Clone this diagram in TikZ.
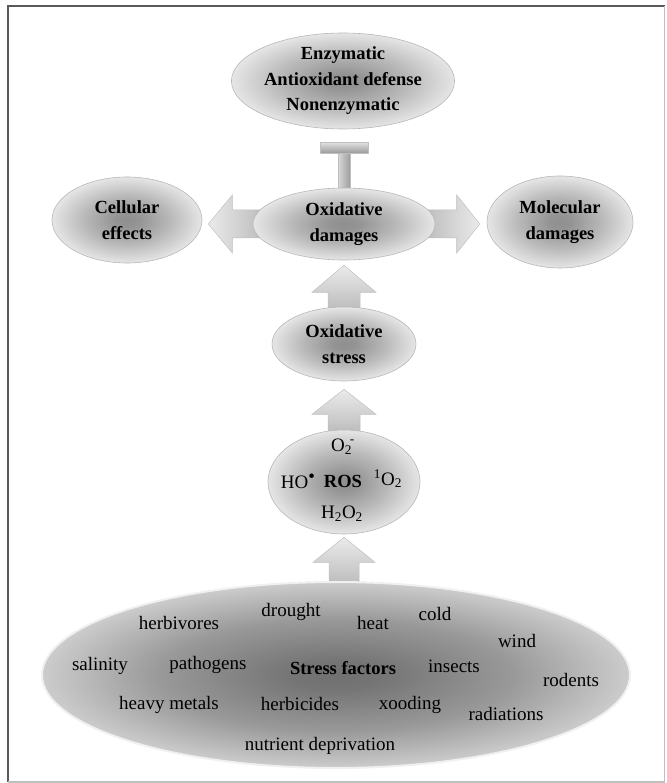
\documentclass[tikz,border=0pt]{standalone}
\usepackage{fontspec}
\setmainfont{Liberation Serif}
\usetikzlibrary{shapes.geometric,calc}
\pgfdeclarelayer{bg}
\pgfsetlayers{bg,main}
\pgfdeclareradialshading{ellA}{\pgfpoint{0bp}{0bp}}{color(0bp)=(black!44); color(4bp)=(black!42); color(14bp)=(black!28); color(25bp)=(black!10); color(50bp)=(black!10)}
\pgfdeclareradialshading{ellB}{\pgfpoint{0bp}{0bp}}{color(0bp)=(black!56); color(4bp)=(black!54); color(15bp)=(black!40); color(25bp)=(black!20); color(50bp)=(black!20)}
\begin{document}
\begin{tikzpicture}[x=1pt,y=-1pt,
  ell/.style={ellipse, inner sep=0pt, draw=black!28, line width=0.6pt, shade, shading=ellA,
    align=center, font=\fontsize{18.5}{25.5}\selectfont\bfseries},
  ellbig/.style={ellipse, inner sep=0pt, draw=black!6, line width=2pt, shade, shading=ellB},
  txt/.style={inner sep=0pt, font=\fontsize{19}{22}\selectfont},
  btxt/.style={inner sep=0pt, font=\fontsize{18.5}{22}\selectfont\bfseries},
  blkup/.style={draw=black!25, line width=0.5pt, shade, top color=black!8, bottom color=black!30},
  blkl/.style={draw=black!25, line width=0.5pt, shade, left color=black!8, right color=black!30},
  blkr/.style={draw=black!25, line width=0.5pt, shade, left color=black!30, right color=black!8}]
\useasboundingbox (0,0) rectangle (666,783);
% frame
\draw[black!65, line width=2.5pt] (8,782) -- (8,6) -- (664.5,6);
\draw[black!25, line width=1.2pt] (8,782) -- (664.5,782) -- (664.5,6);

% nodes
\node[ell, minimum width=196pt, minimum height=96pt] (def) at (343,81) {Enzymatic\\Antioxidant defense\\Nonenzymatic};
\node[ell, minimum width=182pt, minimum height=72pt] (dam) at (344,224) {Oxidative\\damages};
\node[ell, minimum width=150pt, minimum height=86pt] (cell) at (127,220) {Cellular\\effects};
\node[ell, minimum width=146pt, minimum height=92pt] (mol) at (560,222) {Molecular\\damages};
\node[ell, minimum width=144pt, minimum height=74pt] (ox) at (344,344) {Oxidative\\stress};
\node[ell, minimum width=152pt, minimum height=104pt] (ros) at (344,482) {};
\node[ellbig, minimum width=588pt, minimum height=186pt] (sf) at (336,675) {};

% ROS texts
\node[txt] (o2m) at (343,447) {O\textsubscript{2}\kern-0.12em\raisebox{0.1em}{\textsuperscript{-}}};
\node[txt] (ho) at (298,481) {HO\raisebox{0.3em}{\textbullet}};
\node[btxt] (rosl) at (343,481) {ROS};
\node[txt] (so2) at (388,479) {\textsuperscript{1}O\textsubscript{2}};
\node[txt] (h2o2) at (342,514) {H\textsubscript{2}O\textsubscript{2}};

% stress factor texts
\node[txt] (t1) at (179,623) {herbivores};
\node[txt] (t2) at (291,612) {drought};
\node[txt] (t3) at (373,623) {heat};
\node[txt] (t4) at (435,614) {cold};
\node[txt] (t5) at (517,641) {wind};
\node[txt] (t6) at (100,666) {salinity};
\node[txt] (t7) at (208,665) {pathogens};
\node[btxt] (t8) at (343,668) {Stress factors};
\node[txt] (t9) at (454,666) {insects};
\node[txt] (t10) at (571,680) {rodents};
\node[txt] (t11) at (169,705) {heavy metals};
\node[txt] (t12) at (300,704) {herbicides};
\node[txt] (t13) at (410,705) {xooding};
\node[txt] (t14) at (506,714) {radiations};
\node[txt] (t15) at (320,746) {nutrient deprivation};

% connectors (block arrows) on background layer
\begin{pgfonlayer}{bg}
% ox -> dam
\path[blkup] ($(ox.north)+(-16,12)$) -- ($(dam.south)+(-16,32)$) -- ($(dam.south)+(-32,32)$)
  -- ($(dam.south)+(0,5)$) -- ($(dam.south)+(32,32)$) -- ($(dam.south)+(16,32)$)
  -- ($(ox.north)+(16,12)$) -- cycle;
% ros -> ox
\path[blkup] ($(ros.north)+(-16,12)$) -- ($(ox.south)+(-16,33)$) -- ($(ox.south)+(-32,33)$)
  -- ($(ox.south)+(0,8)$) -- ($(ox.south)+(32,33)$) -- ($(ox.south)+(16,33)$)
  -- ($(ros.north)+(16,12)$) -- cycle;
% sf -> ros
\path[blkup] ($(ros.south|-sf.north)+(-15,12)$) -- ($(ros.south)+(-15,28)$) -- ($(ros.south)+(-31,28)$)
  -- ($(ros.south)+(0,3)$) -- ($(ros.south)+(31,28)$) -- ($(ros.south)+(15,28)$)
  -- ($(ros.south|-sf.north)+(15,12)$) -- cycle;
% dam -> cell
\path[blkl] ($(dam.west)+(22,-14)$) -- ($(cell.east|-dam.west)+(30,-14)$) -- ($(cell.east|-dam.west)+(30,-29)$)
  -- ($(cell.east|-dam.west)+(6,0)$) -- ($(cell.east|-dam.west)+(30,29)$) -- ($(cell.east|-dam.west)+(30,14)$)
  -- ($(dam.west)+(22,14)$) -- cycle;
% dam -> mol
\path[blkr] ($(dam.east)+(-22,-14)$) -- ($(mol.west|-dam.east)+(-30,-14)$) -- ($(mol.west|-dam.east)+(-30,-29)$)
  -- ($(mol.west|-dam.east)+(-7,0)$) -- ($(mol.west|-dam.east)+(-30,29)$) -- ($(mol.west|-dam.east)+(-30,14)$)
  -- ($(dam.east)+(-22,14)$) -- cycle;
% def -| dam (inhibition)
\path[draw=black!25, line width=0.5pt, shade, left color=black!15, right color=black!38]
  ($(dam.north)+(-6,8)$) rectangle ($(dam.north|-def.south)+(6,24)$);
\end{pgfonlayer}
\path[draw=black!25, line width=0.5pt, shade, top color=black!12, bottom color=black!40]
  ($(dam.north|-def.south)+(-24,13)$) rectangle ($(dam.north|-def.south)+(24,24)$);
\end{tikzpicture}
\end{document}
